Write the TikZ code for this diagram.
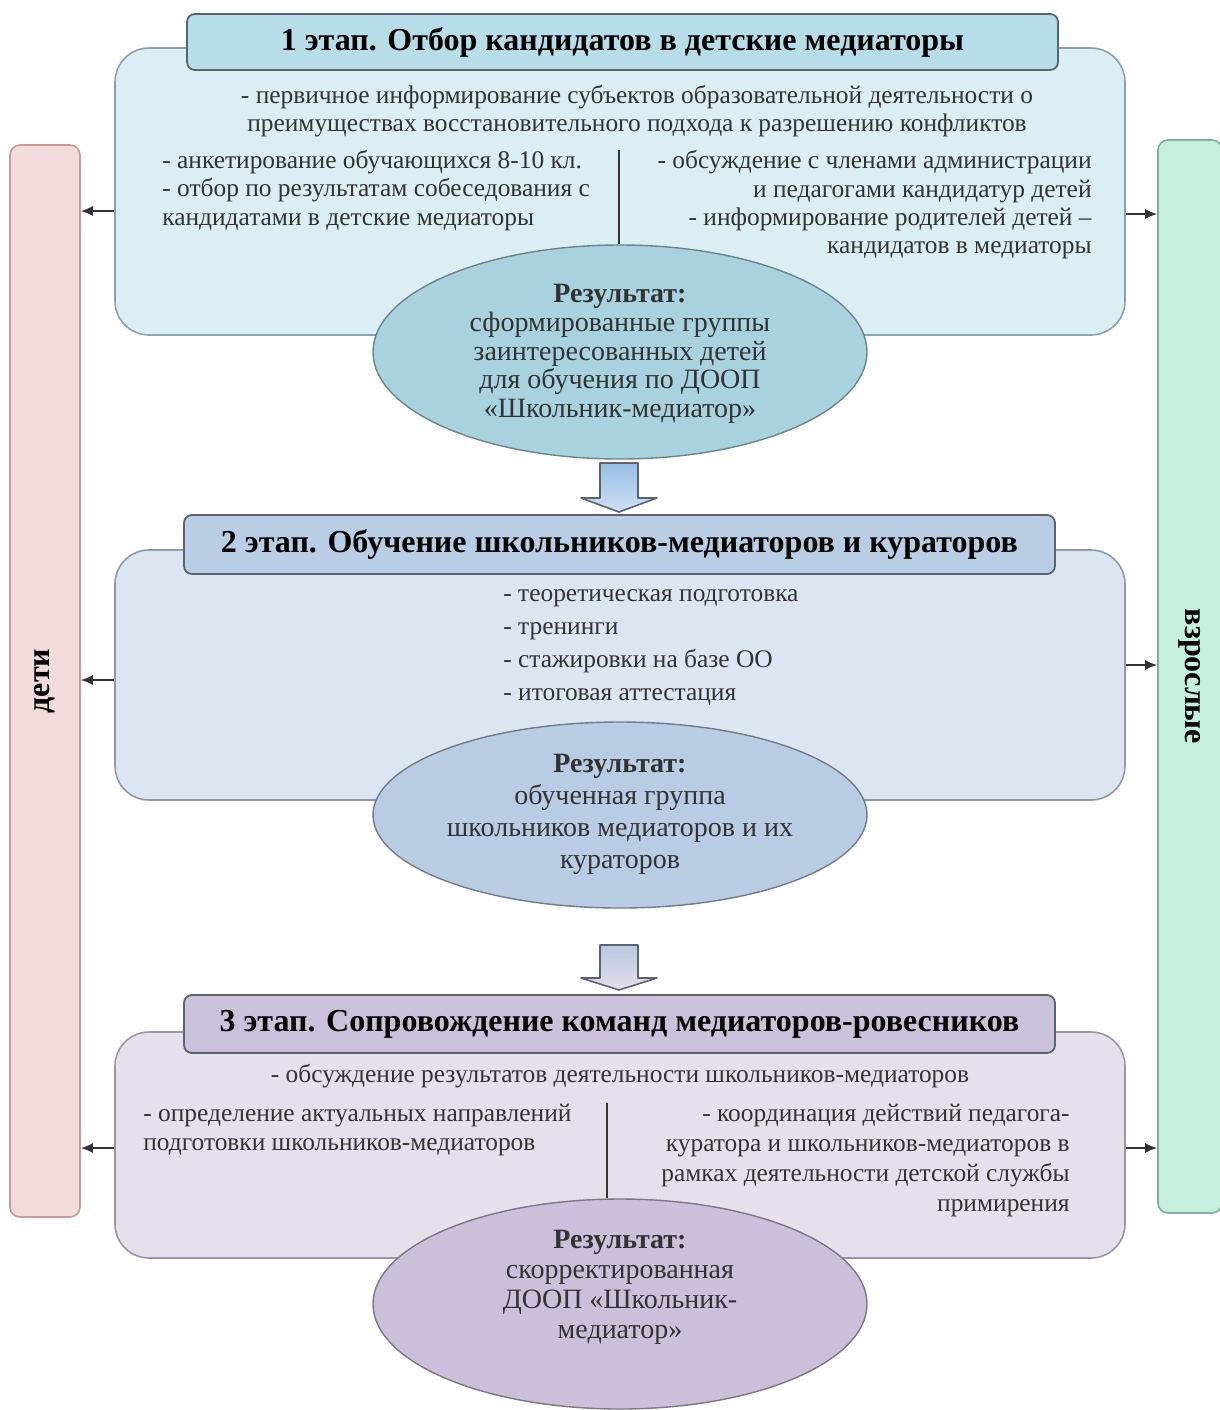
\documentclass[tikz,border=0pt]{standalone}
\usepackage{fontspec}
\setmainfont{Liberation Serif}
\usetikzlibrary{positioning, shapes.geometric, arrows.meta}

\definecolor{textgray}{HTML}{333333}
\definecolor{boxonefill}{HTML}{DAEEF3}
\definecolor{boxoneline}{HTML}{8AA4AE}
\definecolor{headonefill}{HTML}{B7DDE8}
\definecolor{ellonefill}{HTML}{A8D2DE}
\definecolor{boxtwofill}{HTML}{DCE6F2}
\definecolor{boxtwoline}{HTML}{8E9AAA}
\definecolor{headtwofill}{HTML}{B9CDE5}
\definecolor{elltwofill}{HTML}{B8CCE4}
\definecolor{boxthreefill}{HTML}{E5E0EC}
\definecolor{boxthreeline}{HTML}{9C95A6}
\definecolor{headthreefill}{HTML}{CCC1DA}
\definecolor{ellthreefill}{HTML}{CBBFD9}
\definecolor{headline}{HTML}{59656E}
\definecolor{kidsfill}{HTML}{F2DCDB}
\definecolor{kidsline}{HTML}{C99A98}
\definecolor{adultsfill}{HTML}{C6EFDC}
\definecolor{adultsline}{HTML}{7FAFA4}
\definecolor{arrowonetop}{HTML}{98BFE4}
\definecolor{arrowonebot}{HTML}{CFE0F3}
\definecolor{arrowtwotop}{HTML}{B9C8E0}
\definecolor{arrowtwobot}{HTML}{E4DEEC}

\tikzstyle{stagebox} = [rectangle, draw, rounded corners=17pt,
                 minimum width=505pt, line width=0.8pt]
\tikzstyle{stagehead} = [rectangle, draw=headline, rounded corners=4pt,
                 minimum width=435.5pt, line width=0.9pt,
                 font=\fontsize{16}{18}\selectfont\bfseries]
\tikzstyle{result} = [ellipse, draw, minimum width=247pt, inner sep=0pt,
                 line width=0.7pt]
\tikzstyle{sidebar} = [rectangle, draw, rounded corners=5pt, line width=0.8pt,
                 font=\fontsize{16}{18}\selectfont\bfseries]
\tikzset{
	bodytext/.style={font=\fontsize{12.7}{14.2}\selectfont, text=textgray, inner sep=0pt},
	restext/.style={font=\fontsize{14}{14.3}\selectfont, text=textgray, inner sep=0pt, align=center},
	sidearrow/.style={-{Latex[length=6pt,width=5pt]}, line width=0.8pt, draw=black!80},
	blockarrow/.style={draw=headline, line width=0.8pt, line join=round},
}

\begin{document}
\begin{tikzpicture}[x=0.5pt, y=-0.5pt]

\useasboundingbox (0,0) rectangle (1220,1410);

% side bars
\node [sidebar, fill=kidsfill, draw=kidsline, rotate=90,
       minimum width=536pt, minimum height=35pt] (kids) at (45,681) {дети};
\node [sidebar, fill=adultsfill, draw=adultsline, rotate=-90,
       minimum width=536.5pt, minimum height=32pt] (adults) at (1190,676.5) {взрослые};

% stage 1
\node [stagebox, fill=boxonefill, draw=boxoneline, minimum height=143.5pt] (box1) at (620,191.5) {};
\node [stagehead, fill=headonefill, minimum height=28pt] (head1) at (622.5,42)
	{1 этап. Отбор кандидатов в детские медиаторы};
\node [bodytext, align=center] (intro1) at (637,111)
	{- первичное информирование субъектов образовательной деятельности о\\
	 преимуществах восстановительного подхода к разрешению конфликтов};
\node [bodytext, align=left, anchor=west] (left1) at (162,190.5)
	{- анкетирование обучающихся 8-10 кл.\\
	 - отбор по результатам собеседования с\\
	 кандидатами в детские медиаторы};
\node [bodytext, align=right, anchor=east] (right1) at (1092,205)
	{- обсуждение с членами администрации\\
	 и педагогами кандидатур детей\\
	 - информирование родителей детей –\\
	 кандидатов в медиаторы};
\node [result, fill=ellonefill, draw=boxoneline!80!black, minimum height=107pt] (ell1) at (620,352) {};
\node [restext] (res1) at (620,354)
	{\textbf{Результат:}\\сформированные группы\\заинтересованных детей\\для обучения по ДООП\\«Школьник-медиатор»};
\coordinate (div1) at (619,150);
\draw [line width=0.8pt, textgray] (div1) -- (div1 |- ell1.north);

% stage 2
\node [stagebox, fill=boxtwofill, draw=boxtwoline, minimum height=125pt] (box2) at (620,675) {};
\node [stagehead, fill=headtwofill, minimum height=29.5pt] (head2) at (619.5,544.5)
	{2 этап. Обучение школьников-медиаторов и кураторов};
\node [bodytext, align=left, anchor=west, font=\fontsize{12.7}{16.5}\selectfont] (items2) at (503,647.5)
	{- теоретическая подготовка\\- тренинги\\- стажировки на базе ОО\\- итоговая аттестация};
\node [result, fill=elltwofill, draw=boxtwoline!80!black, minimum height=93pt] (ell2) at (620,815) {};
\node [restext, font=\fontsize{14}{16}\selectfont] (res2) at (620,814)
	{\textbf{Результат:}\\обученная группа\\школьников медиаторов и их\\кураторов};

% stage 3
\node [stagebox, fill=boxthreefill, draw=boxthreeline, minimum height=113pt] (box3) at (620,1145) {};
\node [stagehead, fill=headthreefill, minimum height=29pt] (head3) at (619.5,1024)
	{3 этап. Сопровождение команд медиаторов-ровесников};
\node [bodytext, align=center] (intro3) at (620,1076)
	{- обсуждение результатов деятельности школьников-медиаторов};
\node [bodytext, align=left, anchor=west] (left3) at (143,1130)
	{- определение актуальных направлений\\подготовки школьников-медиаторов};
\node [bodytext, align=right, anchor=east, font=\fontsize{12.7}{15}\selectfont] (right3) at (1070,1160)
	{- координация действий педагога-\\куратора и школьников-медиаторов в\\рамках деятельности детской службы\\примирения};
\node [result, fill=ellthreefill, draw=boxthreeline!80!black, minimum height=105pt] (ell3) at (620,1304) {};
\node [restext, font=\fontsize{14}{15}\selectfont] (res3) at (620,1287)
	{\textbf{Результат:}\\скорректированная\\ДООП «Школьник-\\медиатор»};
\coordinate (div3) at (607,1103);
\draw [line width=0.8pt, textgray] (div3) -- (div3 |- ell3.north);

% block arrows between stages
\coordinate (arr1) at (619,463);
\shade [blockarrow, top color=arrowonetop, bottom color=arrowonebot]
	(arr1) ++(-19,0) -- ++(38,0) -- ++(0,35) -- ++(19,0) -- ++(-38,14)
	-- ++(-38,-14) -- ++(19,0) -- cycle;
\coordinate (arr2) at (619,945);
\shade [blockarrow, top color=arrowtwotop, bottom color=arrowtwobot]
	(arr2) ++(-19,0) -- ++(38,0) -- ++(0,33) -- ++(19,0) -- ++(-38,12)
	-- ++(-38,-12) -- ++(19,0) -- cycle;

% arrows to the side bars
\coordinate (l1) at (0,211);
\coordinate (r1) at (0,214);
\coordinate (l2) at (0,680);
\coordinate (r2) at (0,665);
\coordinate (l3) at (0,1148);
\coordinate (r3) at (0,1148);
\draw [sidearrow] (box1.west |- l1) -- (kids.south |- l1);
\draw [sidearrow] (box1.east |- r1) -- (adults.south |- r1);
\draw [sidearrow] (box2.west |- l2) -- (kids.south |- l2);
\draw [sidearrow] (box2.east |- r2) -- (adults.south |- r2);
\draw [sidearrow] (box3.west |- l3) -- (kids.south |- l3);
\draw [sidearrow] (box3.east |- r3) -- (adults.south |- r3);

\end{tikzpicture}
\end{document}
